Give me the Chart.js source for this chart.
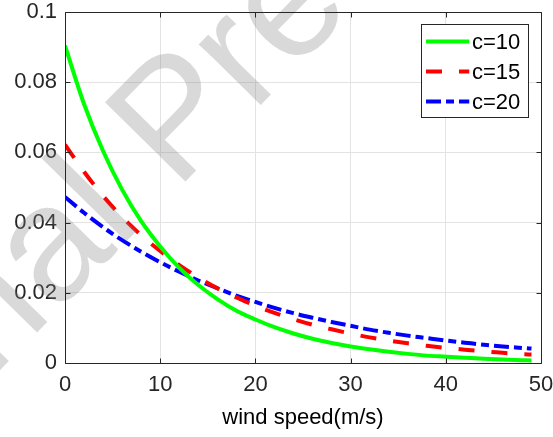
<!DOCTYPE html>
<html>
<head>
<meta charset="utf-8">
<script src="https://cdn.jsdelivr.net/npm/chart.js@4"></script>
<style>
  html, body { margin: 0; padding: 0; background: #fff; }
  #wrap { width: 553px; height: 437px; position: relative; }
</style>
</head>
<body>
<div id="wrap"><canvas id="chart"></canvas></div>
<script>
// ===== DATA =====
const windSpeed = [0, 2, 4, 6, 8, 10, 12, 14, 16, 18, 20, 22, 24, 26, 28, 30, 32, 34, 36, 38, 40, 42, 44, 46, 48, 49];

const pdfC10 = [0.0904, 0.0738, 0.0604, 0.0494, 0.0404, 0.0332, 0.0271, 0.0222, 0.0182, 0.0149,
  0.0124, 0.0102, 0.0084, 0.0069, 0.0057, 0.0047, 0.0039, 0.0032, 0.0026, 0.0021,
  0.0018, 0.0015, 0.0012, 0.0010, 0.0008, 0.0007];

const pdfC15 = [0.0622, 0.0545, 0.0476, 0.0416, 0.0364, 0.0319, 0.0279, 0.0244, 0.0213, 0.0187,
  0.0163, 0.0143, 0.0125, 0.0109, 0.0096, 0.0084, 0.0073, 0.0064, 0.0056, 0.0049,
  0.0043, 0.0038, 0.0033, 0.0029, 0.0025, 0.0024];

const pdfC20 = [0.0473, 0.0428, 0.0387, 0.0350, 0.0317, 0.0287, 0.0260, 0.0235, 0.0213, 0.0192,
  0.0174, 0.0157, 0.0142, 0.0129, 0.0117, 0.0106, 0.0095, 0.0086, 0.0078, 0.0071,
  0.0064, 0.0058, 0.0052, 0.0047, 0.0043, 0.0041];

const seriesLabels = ["c=10", "c=15", "c=20"];
const xTickStep = 10;
const yTickStep = 0.02;

const FONT = "'Liberation Sans', Arial, sans-serif";
const AXIS_COLOR = "#262626";

function toPoints(ys) {
  return ys.map((y, i) => ({ x: windSpeed[i], y: y }));
}

// ===== PLUGINS =====
// gray diagonal watermark over the plot
const watermark = {
  id: "watermark",
  afterDatasetsDraw(chart) {
    const ctx = chart.ctx;
    ctx.save();
    ctx.translate(176, 191);
    ctx.rotate(-45.5 * Math.PI / 180);
    ctx.font = "164px " + FONT;
    ctx.fillStyle = "rgba(128,128,128,0.3)";
    ctx.textBaseline = "alphabetic";
    ctx.textAlign = "right";
    ctx.fillText("Journal ", 0, 0);
    ctx.textAlign = "left";
    ctx.fillText("Pre-proof", 0, 0);
    ctx.restore();
  }
};

// box around the axes with inward ticks, then the legend
const frameAndLegend = {
  id: "frameAndLegend",
  afterDraw(chart) {
    const ctx = chart.ctx;
    const a = chart.chartArea;
    const xs = chart.scales.x;
    const ys = chart.scales.y;
    const L = Math.round(a.left) + 0.5;
    const R = Math.round(a.right) + 0.5;
    const T = Math.round(a.top) + 0.5;
    const B = Math.round(a.bottom) + 0.5;

    ctx.save();
    ctx.strokeStyle = AXIS_COLOR;
    ctx.lineWidth = 1;
    ctx.beginPath();
    ctx.rect(L, T, R - L, B - T);

    const tick = 5;
    xs.ticks.forEach(t => {
      const px = Math.round(xs.getPixelForValue(t.value)) + 0.5;
      ctx.moveTo(px, B); ctx.lineTo(px, B - tick);
      ctx.moveTo(px, T); ctx.lineTo(px, T + tick);
    });
    ys.ticks.forEach(t => {
      const py = Math.round(ys.getPixelForValue(t.value)) + 0.5;
      ctx.moveTo(L, py); ctx.lineTo(L + tick, py);
      ctx.moveTo(R, py); ctx.lineTo(R - tick, py);
    });
    ctx.stroke();

    // legend
    const bx = 421.5, by = 24.5, bw = 107, bh = 93;
    ctx.fillStyle = "#fff";
    ctx.fillRect(bx, by, bw, bh);
    ctx.strokeStyle = "#262626";
    ctx.strokeRect(bx, by, bw, bh);

    const rows = [41.5, 71.5, 101.5];
    chart.data.datasets.forEach((ds, i) => {
      ctx.save();
      ctx.beginPath();
      ctx.rect(426, rows[i] - 4, 43.5, 8);
      ctx.clip();
      ctx.strokeStyle = ds.borderColor;
      ctx.lineWidth = ds.borderWidth;
      ctx.setLineDash(ds.borderDash || []);
      ctx.beginPath();
      ctx.moveTo(426, rows[i]);
      ctx.lineTo(469.5, rows[i]);
      ctx.stroke();
      ctx.restore();

      ctx.fillStyle = "#000";
      ctx.font = "22px " + FONT;
      ctx.textAlign = "left";
      ctx.textBaseline = "middle";
      ctx.fillText(ds.label, 472, rows[i] + 1);
    });
    ctx.restore();
  }
};

// ===== CHART =====
const ctx = document.getElementById("chart");

new Chart(ctx, {
  type: "line",
  data: {
    datasets: [
      {
        label: seriesLabels[0],
        data: toPoints(pdfC10),
        borderColor: "#00ff00",
        borderWidth: 4
      },
      {
        label: seriesLabels[1],
        data: toPoints(pdfC15),
        borderColor: "#ff0000",
        borderWidth: 4,
        borderDash: [16, 17]
      },
      {
        label: seriesLabels[2],
        data: toPoints(pdfC20),
        borderColor: "#0000ff",
        borderWidth: 4,
        borderDash: [15, 5, 8, 5]
      }
    ]
  },
  options: {
    responsive: true,
    maintainAspectRatio: false,
    animation: false,
    devicePixelRatio: 1,
    layout: { padding: { left: 0, right: 12, top: 12, bottom: 0 } },
    elements: {
      point: { radius: 0 },
      line: { cubicInterpolationMode: "monotone", borderCapStyle: "butt" }
    },
    plugins: {
      legend: { display: false },
      tooltip: { enabled: false }
    },
    scales: {
      x: {
        type: "linear",
        min: 0,
        max: 50,
        afterFit(scale) {
          scale.height = 74;
          scale.paddingLeft = 0;
          scale.paddingRight = 0;
        },
        border: { display: false },
        grid: { color: "#e3e3e3", drawTicks: false },
        ticks: {
          stepSize: xTickStep,
          padding: 9,
          color: AXIS_COLOR,
          font: { family: FONT, size: 22 }
        },
        title: {
          display: true,
          text: "wind speed(m/s)",
          color: "#000",
          font: { family: FONT, size: 22 },
          padding: { top: 0, bottom: 6 }
        }
      },
      y: {
        min: 0,
        max: 0.1,
        afterFit(scale) {
          scale.width = 65;
          scale.paddingTop = 0;
          scale.paddingBottom = 0;
        },
        border: { display: false },
        grid: { color: "#e3e3e3", drawTicks: false },
        ticks: {
          stepSize: yTickStep,
          padding: 8,
          color: AXIS_COLOR,
          font: { family: FONT, size: 22 },
          callback: v => String(+v.toFixed(2))
        }
      }
    }
  },
  plugins: [watermark, frameAndLegend]
});
</script>
</body>
</html>
